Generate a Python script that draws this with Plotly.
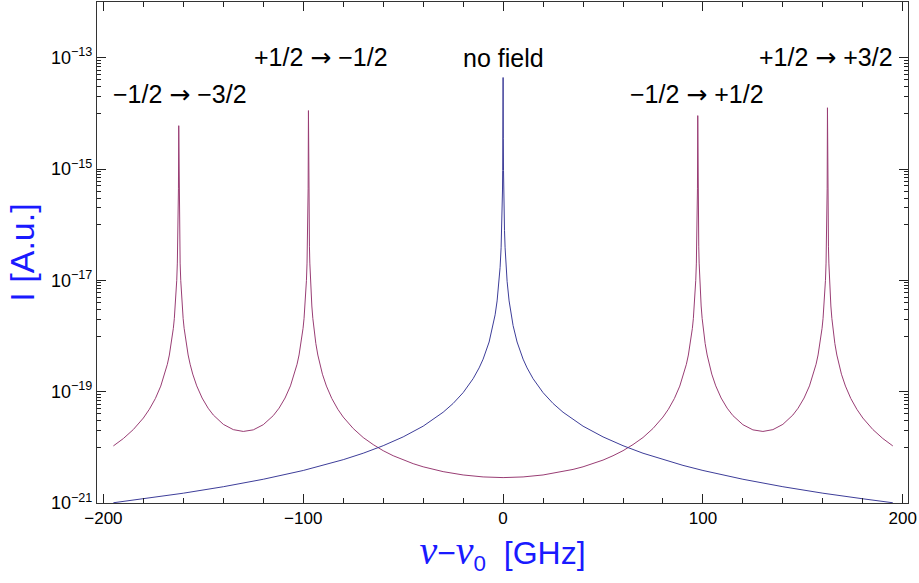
import plotly.graph_objects as go

# ---- data: (frequency offset GHz, intensity a.u.) ----
nofield_left = [(-195, 1.01e-21), (-180, 1.19e-21), (-160, 1.50e-21), (-140, 1.96e-21), (-120, 2.67e-21),
                (-100, 3.84e-21), (-90, 4.74e-21), (-80, 6.0e-21), (-70, 7.84e-21), (-60, 1.07e-20),
                (-50, 1.54e-20), (-40, 2.40e-20), (-30, 4.27e-20), (-25, 6.14e-20), (-20, 9.6e-20),
                (-15, 1.71e-19), (-12, 2.67e-19), (-10, 3.84e-19), (-7, 7.8e-19), (-5, 1.54e-18),
                (-4, 2.4e-18), (-3, 4.27e-18), (-2, 9.6e-18), (-1.5, 1.71e-17), (-1, 3.84e-17),
                (-0.7, 7.8e-17), (-0.5, 1.53e-16), (-0.3, 4.2e-16), (-0.2, 9.4e-16), (-0.1, 3.5e-15),
                (-0.05, 1.13e-14)]
nofield_peak = [(0, 4.4e-14)]
nofield_right = [(0.05, 1.13e-14), (0.1, 3.5e-15), (0.2, 9.4e-16), (0.3, 4.2e-16), (0.5, 1.53e-16),
                 (0.7, 7.8e-17), (1, 3.84e-17), (1.5, 1.71e-17), (2, 9.6e-18), (3, 4.27e-18), (4, 2.4e-18),
                 (5, 1.54e-18), (7, 7.8e-19), (10, 3.84e-19), (12, 2.67e-19), (15, 1.71e-19), (20, 9.6e-20),
                 (25, 6.14e-20), (30, 4.27e-20), (40, 2.40e-20), (50, 1.54e-20), (60, 1.07e-20),
                 (70, 7.84e-21), (80, 6.0e-21), (90, 4.74e-21), (100, 3.84e-21), (120, 2.67e-21),
                 (140, 1.96e-21), (160, 1.50e-21), (180, 1.19e-21), (195, 1.01e-21)]

field_left = [(-195, 1.06e-20), (-190, 1.44e-20), (-185, 2.09e-20), (-180, 3.36e-20), (-177, 4.83e-20),
              (-174, 7.52e-20), (-171.3, 1.26e-19), (-169.3, 2.06e-19), (-168, 3.10e-19), (-167, 4.55e-19),
              (-166, 7.33e-19), (-165, 1.37e-18), (-164.5, 2.07e-18), (-164, 3.46e-18), (-163.7, 5.1e-18),
              (-163.3, 1.0e-17), (-163, 2.04e-17), (-162.8, 4.0e-17), (-162.6, 1.11e-16), (-162.45, 4.4e-16),
              (-162.3, 6.0e-15),
              (-162.15, 4.4e-16), (-162.0, 1.11e-16), (-161.8, 4.0e-17), (-161.6, 2.04e-17), (-161.3, 1.0e-17),
              (-160.9, 5.1e-18), (-160.6, 3.46e-18), (-160.1, 2.07e-18), (-159.6, 1.375e-18), (-158.6, 7.34e-19),
              (-157.6, 4.56e-19), (-156.6, 3.11e-19), (-155.3, 2.07e-19), (-153.3, 1.27e-19), (-150.6, 7.69e-20),
              (-147.6, 5.05e-20), (-145, 3.81e-20), (-140, 2.59e-20), (-135, 2.08e-20), (-130, 1.93e-20),
              (-125, 2.06e-20), (-120, 2.55e-20), (-115, 3.71e-20), (-112.1, 5.06e-20), (-109.1, 7.69e-20),
              (-106.4, 1.27e-19), (-104.4, 2.07e-19), (-103.1, 3.11e-19), (-102.1, 4.56e-19), (-101.1, 7.34e-19),
              (-100.1, 1.375e-18), (-99.6, 2.07e-18), (-99.1, 3.46e-18), (-98.8, 5.1e-18), (-98.4, 1.0e-17),
              (-98.1, 2.04e-17), (-97.9, 4.0e-17), (-97.7, 1.11e-16), (-97.55, 4.4e-16),
              (-97.4, 1.12e-14),
              (-97.25, 4.4e-16), (-97.1, 1.11e-16), (-96.9, 4.0e-17), (-96.7, 2.04e-17), (-96.4, 1.0e-17),
              (-96.0, 5.1e-18), (-95.7, 3.46e-18), (-95.2, 2.07e-18), (-94.7, 1.37e-18), (-93.7, 7.33e-19),
              (-92.7, 4.55e-19), (-91.7, 3.10e-19), (-90.4, 2.06e-19), (-88.4, 1.26e-19), (-85.7, 7.52e-20),
              (-82.7, 4.83e-20), (-80, 3.50e-20), (-75, 2.18e-20), (-70, 1.50e-20), (-65, 1.12e-20),
              (-60, 8.7e-21), (-55, 7.07e-21), (-50, 5.9e-21), (-45, 5.09e-21), (-40, 4.47e-21),
              (-35, 4.01e-21), (-30, 3.66e-21), (-20, 3.19e-21), (-10, 2.94e-21)]
field_center = [(0, 2.86e-21)]
field_right = [(10, 2.94e-21), (20, 3.19e-21), (30, 3.66e-21), (35, 4.01e-21), (40, 4.47e-21), (45, 5.09e-21),
               (50, 5.9e-21), (55, 7.07e-21), (60, 8.7e-21), (65, 1.12e-20), (70, 1.50e-20), (75, 2.18e-20),
               (80, 3.50e-20), (82.7, 4.83e-20), (85.7, 7.52e-20), (88.4, 1.26e-19), (90.4, 2.06e-19),
               (91.7, 3.10e-19), (92.7, 4.55e-19), (93.7, 7.33e-19), (94.7, 1.37e-18), (95.2, 2.07e-18),
               (95.7, 3.46e-18), (96.0, 5.1e-18), (96.4, 1.0e-17), (96.7, 2.04e-17), (96.9, 4.0e-17),
               (97.1, 1.11e-16), (97.25, 4.4e-16),
               (97.4, 9.1e-15),
               (97.55, 4.4e-16), (97.7, 1.11e-16), (97.9, 4.0e-17), (98.1, 2.04e-17), (98.4, 1.0e-17),
               (98.8, 5.1e-18), (99.1, 3.46e-18), (99.6, 2.07e-18), (100.1, 1.375e-18), (101.1, 7.34e-19),
               (102.1, 4.56e-19), (103.1, 3.11e-19), (104.4, 2.07e-19), (106.4, 1.27e-19), (109.1, 7.69e-20),
               (112.1, 5.06e-20), (115, 3.71e-20), (120, 2.55e-20), (125, 2.06e-20), (130, 1.93e-20),
               (135, 2.08e-20), (140, 2.59e-20), (145, 3.81e-20), (147.6, 5.05e-20), (150.6, 7.69e-20),
               (153.3, 1.27e-19), (155.3, 2.07e-19), (156.6, 3.11e-19), (157.6, 4.56e-19), (158.6, 7.34e-19),
               (159.6, 1.375e-18), (160.1, 2.07e-18), (160.6, 3.46e-18), (160.9, 5.1e-18), (161.3, 1.0e-17),
               (161.6, 2.04e-17), (161.8, 4.0e-17), (162.0, 1.11e-16), (162.15, 4.4e-16),
               (162.3, 1.26e-14),
               (162.45, 4.4e-16), (162.6, 1.11e-16), (162.8, 4.0e-17), (163, 2.04e-17), (163.3, 1.0e-17),
               (163.7, 5.1e-18), (164, 3.46e-18), (164.5, 2.07e-18), (165, 1.37e-18), (166, 7.33e-19),
               (167, 4.55e-19), (168, 3.10e-19), (169.3, 2.06e-19), (171.3, 1.26e-19), (174, 7.52e-20),
               (177, 4.83e-20), (180, 3.36e-20), (185, 2.09e-20), (190, 1.44e-20), (195, 1.06e-20)]

label_text = ["\u22121/2 \u2192 \u22123/2", "+1/2 \u2192 \u22121/2", "no field",
              "\u22121/2 \u2192 +1/2", "+1/2 \u2192 +3/2"]
label_x = [-161.7, -91.2, 0, 96.9, 161.8]
label_logy = [-13.66, -13.0, -13.0, -13.66, -13.0]

x_tickvals = [-200, -100, 0, 100, 200]
x_ticktext = ["\u2212200", "\u2212100", "0", "100", "200"]
y_tickvals = [1e-21, 1e-19, 1e-17, 1e-15, 1e-13]
y_ticktext = ["10<sup>\u221221</sup>", "10<sup>\u221219</sup>", "10<sup>\u221217</sup>",
              "10<sup>\u221215</sup>", "10<sup>\u221213</sup>"]
y_minor_decades = [1e-19, 1e-17, 1e-15, 1e-13]
y_minor_digits = [1, 2, 3, 4, 5, 6, 7, 8, 9]

nf = nofield_left + nofield_peak + nofield_right
fd = field_left + field_center + field_right
y_minor = [k * d / 10 for d in y_minor_decades for k in y_minor_digits]

FONT = "Liberation Sans, Arial, sans-serif"
AXC = "#333333"
TICKC = "#222222"
TITLE_C = "#1a1aff"
ARROW = "<span style=\"font-family:'DejaVu Sans'\">\u2192</span>"

fig = go.Figure()
fig.add_trace(go.Scatter(x=[p[0] for p in fd], y=[p[1] for p in fd], mode="lines",
                         line=dict(color="#993d74", width=1), showlegend=False, hoverinfo="skip"))
fig.add_trace(go.Scatter(x=[p[0] for p in nf], y=[p[1] for p in nf], mode="lines",
                         line=dict(color="#3d3d99", width=1), showlegend=False, hoverinfo="skip"))

for t, xv, yv in zip(label_text, label_x, label_logy):
    fig.add_annotation(x=xv, y=yv, text=t.replace("\u2192", ARROW), showarrow=False,
                       xanchor="center", yanchor="middle",
                       font=dict(family=FONT, size=25, color="black"))

fig.update_layout(
    width=919, height=583,
    margin=dict(l=97, r=11, t=2, b=80),
    plot_bgcolor="white", paper_bgcolor="white",
    font=dict(family=FONT, color="black"),
)
NU = "<span style=\"font-family:'Liberation Serif';font-size:40px\"><i>\u03bd</i></span>"
fig.update_xaxes(
    range=[-203.2, 202.6], showgrid=False, zeroline=False,
    showline=True, linecolor=AXC, linewidth=1, mirror="allticks",
    tickmode="array", tickvals=x_tickvals, ticktext=x_ticktext,
    ticks="inside", ticklen=9, tickcolor=TICKC, tickwidth=1.2,
    tickfont=dict(family=FONT, size=17, color="black"),
    minor=dict(tick0=0, dtick=20, ticks="inside", ticklen=5, tickcolor=TICKC, tickwidth=1.2, showgrid=False),
    title=dict(text=NU + "\u2212" + NU + "<sub>0</sub>  [GHz]",
               font=dict(family=FONT, size=32, color=TITLE_C), standoff=10),
)
fig.update_yaxes(
    type="log", range=[-21, -12], showgrid=False, zeroline=False,
    showline=True, linecolor=AXC, linewidth=1, mirror="allticks",
    tickmode="array", tickvals=y_tickvals, ticktext=y_ticktext,
    ticks="inside", ticklen=9, tickcolor=TICKC, tickwidth=1.2,
    tickfont=dict(family=FONT, size=18, color="black"),
    minor=dict(tickmode="array", tickvals=y_minor, ticks="inside", ticklen=4,
               tickcolor=TICKC, tickwidth=1.2, showgrid=False),
    title=dict(text="I [A.u.]", font=dict(family=FONT, size=34, color=TITLE_C), standoff=6),
)

fig.write_html("out.html")
